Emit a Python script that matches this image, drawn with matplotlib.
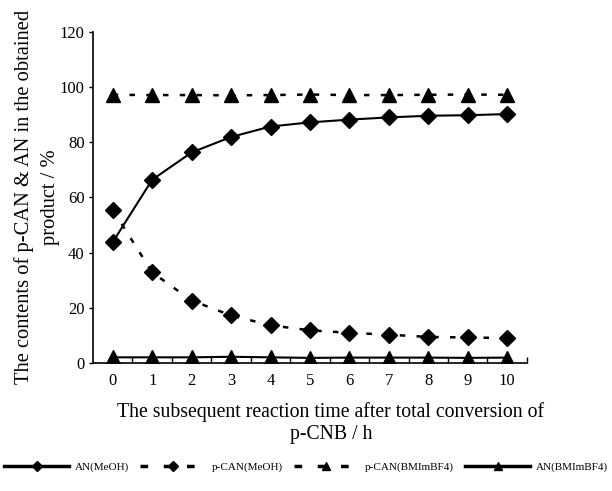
import numpy as np
import matplotlib
matplotlib.use("Agg")
from matplotlib import pyplot as plt

plt.rcParams['font.family'] = ['Liberation Serif', 'DejaVu Serif']

# reaction time (h) after total conversion of p-CNB
hours = [0, 1, 2, 3, 4, 5, 6, 7, 8, 9, 10]

an_meoh = [43.8, 66.4, 76.3, 81.9, 85.7, 87.2, 88.2, 89.0, 89.6, 89.8, 90.2]
pcan_meoh = [55.5, 32.8, 22.6, 17.2, 13.6, 11.8, 10.9, 10.2, 9.4, 9.2, 9.0]
pcan_bmim = [97.2, 97.1, 97.1, 97.0, 97.1, 97.3, 97.1, 97.1, 97.2, 97.3, 97.2]
an_bmim = [2.0, 2.0, 2.0, 2.2, 2.0, 1.8, 1.9, 1.9, 1.9, 1.8, 1.9]

fig = plt.figure(figsize=(6.12, 4.91), dpi=100)
ax = fig.add_axes([0.152, 0.261, 0.709, 0.674])

dash = (0, (2.2, 4.5))
ax.plot(hours, an_meoh, color="black", lw=1.5, marker="D", ms=8, label="AN(MeOH)")
ax.plot(hours, pcan_meoh, color="black", lw=1.8, ls=dash, marker="D", ms=8, label="p-CAN(MeOH)")
ax.plot(hours, pcan_bmim, color="black", lw=1.8, ls=dash, marker="^", ms=10, label="p-CAN(BMImBF4)")
ax.plot(hours, an_bmim, color="black", lw=1.5, marker="^", ms=10, label="AN(BMImBF4)")

ax.set_xlim(-0.5, 10.5)
ax.set_ylim(0, 120)
ax.set_yticks(range(0, 121, 20))
ax.set_xticks(hours)
ax.set_xticks(np.arange(0.5, 11, 1), minor=True)
ax.tick_params(axis="x", which="major", length=0, labelsize=12, pad=7)
ax.tick_params(axis="x", which="minor", direction="in", length=4, width=1)
ax.tick_params(axis="y", direction="out", length=3, width=1, labelsize=12, pad=3)
for s in ["top", "right"]:
    ax.spines[s].set_visible(False)
for s in ["left", "bottom"]:
    ax.spines[s].set_linewidth(1.2)

ax.set_xlabel("The subsequent reaction time after total conversion of\np-CNB / h",
              fontsize=14.2, linespacing=1.2)
ax.xaxis.set_label_coords(0.548, -0.118, transform=ax.transAxes)
ax.xaxis.label.set_va("top")
ax.set_ylabel("The contents of p-CAN & AN in the obtained\nproduct / %",
              fontsize=14.8, linespacing=1.5, labelpad=0)

leg = fig.legend(loc="center", bbox_to_anchor=(0.5, 0.049), ncol=4, frameon=False,
                 fontsize=8, handlelength=5.9, handletextpad=0.5, columnspacing=1.0,
                 markerscale=0.6)
for ln in leg.get_lines():
    ln.set_linewidth(2.5)

fig.savefig("out.png", dpi=100)
